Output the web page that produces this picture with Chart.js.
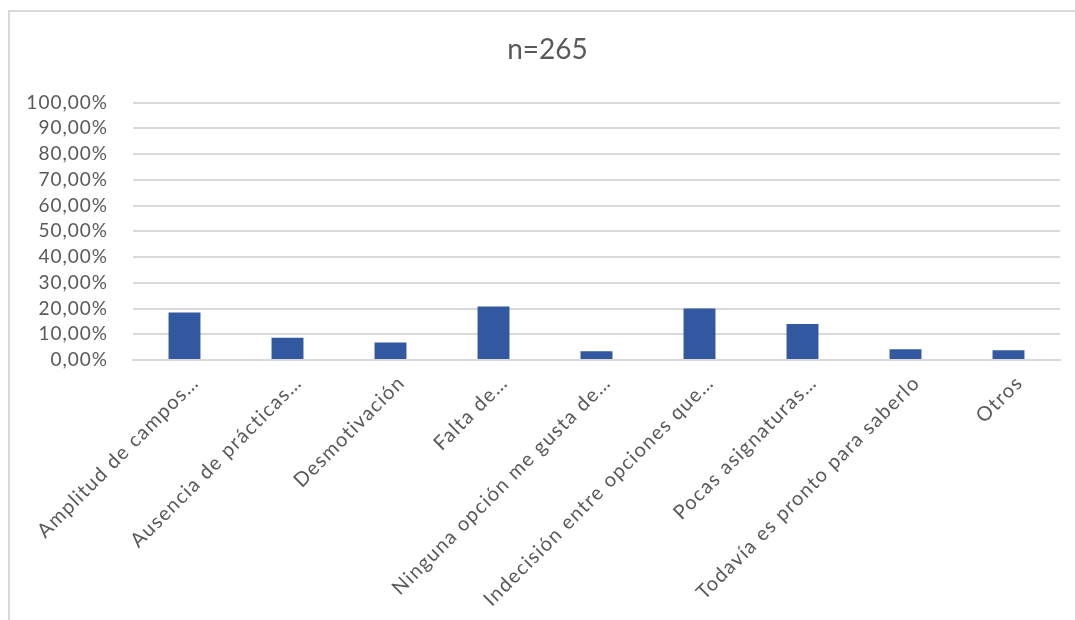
<!DOCTYPE html>
<html>
<head>
<meta charset="utf-8">
<script src="https://cdn.jsdelivr.net/npm/chart.js@4/dist/chart.umd.min.js"></script>
<style>
html,body{margin:0;padding:0;background:#fff;}
#wrap{position:absolute;left:0;top:0;width:1075px;height:620px;}
</style>
</head>
<body>
<div id="wrap"><canvas id="c" width="1075" height="620"></canvas></div>
<script>
const categories = [
  "Amplitud de campos…",
  "Ausencia de prácticas…",
  "Desmotivación",
  "Falta de…",
  "Ninguna opción me gusta de…",
  "Indecisión entre opciones que…",
  "Pocas asignaturas…",
  "Todavía es pronto para saberlo",
  "Otros"
];
const values = [18.49, 8.68, 6.79, 20.75, 3.40, 20.00, 13.96, 4.15, 3.77];
const yTicks = [0, 10, 20, 30, 40, 50, 60, 70, 80, 90, 100];
const titleText = "n=265";

const textColor = "#595959";
const gridColor = "#d9d9d9";

const framePlugin = {
  id: 'frame',
  beforeDraw(chart) {
    const ctx = chart.ctx;
    ctx.save();
    ctx.fillStyle = '#fff';
    ctx.fillRect(0, 0, chart.width, chart.height);
    ctx.strokeStyle = gridColor;
    ctx.lineWidth = 2;
    ctx.beginPath();
    ctx.moveTo(9, chart.height);
    ctx.lineTo(9, 11);
    ctx.lineTo(chart.width, 11);
    ctx.stroke();
    ctx.restore();
  }
};

function spaced(scale, spacing) {
  if (scale._spacedPatched) return;
  const orig = scale.drawLabels.bind(scale);
  scale.drawLabels = function (ca) {
    const ctx = this.ctx;
    ctx.save();
    ctx.letterSpacing = spacing;
    orig(ca);
    ctx.restore();
  };
  scale._spacedPatched = true;
}

new Chart(document.getElementById('c'), {
  type: 'bar',
  data: {
    labels: categories,
    datasets: [{
      data: values,
      backgroundColor: '#3259a0',
      borderWidth: 0,
      categoryPercentage: 1.0,
      barPercentage: 0.31
    }]
  },
  options: {
    responsive: false,
    animation: false,
    devicePixelRatio: 1,
    layout: { padding: { left: 20, right: 0, top: 0, bottom: 0 } },
    plugins: {
      legend: { display: false },
      tooltip: { enabled: false },
      title: {
        display: true,
        text: titleText,
        color: textColor,
        font: { family: 'Lato', size: 28, weight: 'normal', lineHeight: 1.2 },
        padding: { top: 33, bottom: 36 }
      }
    },
    scales: {
      x: {
        grid: { display: false, drawTicks: false },
        border: { display: true, color: gridColor, width: 2 },
        ticks: {
          color: textColor,
          font: { family: 'Lato', size: 20 },
          maxRotation: 45,
          minRotation: 45,
          autoSkip: false,
          padding: 11,
          labelOffset: 11
        },
        afterFit(scale) { scale.height = 260; spaced(scale, '1.3px'); }
      },
      y: {
        min: 0,
        max: 100,
        afterBuildTicks(scale) { scale.ticks = yTicks.map(v => ({ value: v })); },
        grid: { color: gridColor, lineWidth: 2, drawTicks: false },
        border: { display: false },
        ticks: {
          color: textColor,
          font: { family: 'Lato', size: 19 },
          padding: 25,
          autoSkip: false,
          callback: v => v.toFixed(2).replace('.', ',') + '%'
        },
        afterFit(scale) { scale.width = 113; spaced(scale, '1px'); }
      },
      yRight: {
        position: 'right',
        display: true,
        min: 0,
        max: 100,
        grid: { display: false, drawTicks: false },
        border: { display: false },
        ticks: { display: false },
        afterFit(scale) { scale.width = 15; }
      }
    }
  },
  plugins: [framePlugin]
});
</script>
</body>
</html>
